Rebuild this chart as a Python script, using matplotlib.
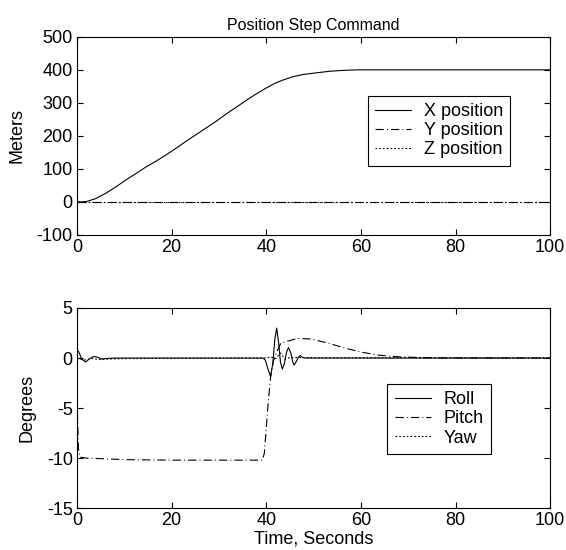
import numpy as np
import matplotlib.pyplot as plt

plt.rcParams['font.family'] = ['Liberation Sans', 'DejaVu Sans']
plt.rcParams['font.size'] = 13
plt.rcParams['axes.unicode_minus'] = False
plt.rcParams['lines.scale_dashes'] = False

# top plot: position step response
t_x = [0, 1, 2, 4, 6.2, 8.3, 10.4, 12.5, 14.6, 16.8, 18.9, 21, 23.1, 25.2, 27.3, 29.5, 31.6, 33.7,
       35.8, 38, 40, 41.8, 43.5, 45.6, 47.8, 50.6, 53.6, 56.5, 59.2, 65, 100]
x_pos = [0, 0, 1, 10, 27, 46, 67, 86, 106, 124, 143, 163, 184, 204, 224, 245, 267, 287,
         308, 328, 345, 359, 369, 379, 386, 391, 396, 398.5, 400, 400, 400]
t_yz = [0, 100]
y_pos = [0, 0]
z_pos = [0, 0]

# bottom plot: attitude angles
t_roll = [0, 0.4, 1, 1.8, 2.6, 3.5, 4.3, 5.2, 6, 8, 39.3, 39.8, 40.3, 40.9, 41.4, 41.8, 42.2, 42.6,
          43, 43.4, 43.8, 44.3, 44.7, 45.2, 45.6, 45.9, 46.4, 46.8, 47.2, 47.7, 48.3, 100]
roll = [0.8, 0.6, -0.1, -0.4, -0.1, 0.15, 0.1, -0.1, -0.05, 0, 0, -0.2, -1.0, -1.85, -0.5, 1.8, 3.0, 1.6,
        -0.4, -1.1, -0.6, 0.6, 1.05, 0.5, -0.4, -0.7, -0.3, 0.1, 0.25, 0.05, 0, 0]
t_pitch = [0, 0.3, 0.6, 2, 5, 10, 20, 30, 39.2, 39.6, 40.0, 40.4, 40.9, 41.5, 42.2, 43.1, 45, 46.6,
           49.5, 53, 56.6, 60, 63.6, 67, 70.7, 75, 100]
pitch = [-3.8, -9.0, -9.9, -10.0, -10.05, -10.15, -10.2, -10.2, -10.2, -9.5, -7.0, -4.5, -2.0, -0.3, 0.6, 1.5, 1.75, 1.96,
         1.9, 1.5, 1.0, 0.6, 0.3, 0.15, 0.08, 0.02, 0]
t_yaw = [0, 0.5, 1.5, 3, 5, 7, 11, 40, 41, 42, 43, 44, 45, 100]
yaw = [0, -0.1, -0.2, -0.05, -0.15, -0.1, -0.05, 0, 0.1, -0.05, 0.5, -0.1, 0.05, 0]

fig = plt.figure(figsize=(5.66, 5.5), dpi=100)
ax1 = fig.add_axes([0.136, 0.573, 0.836, 0.36])
ax2 = fig.add_axes([0.136, 0.076, 0.836, 0.364])

dashdot = (0, (6, 2.2, 0.7, 2.2))
leg_kw = dict(loc='upper left', fancybox=False, edgecolor='k', framealpha=1,
              handlelength=2.0, borderpad=0.4, labelspacing=0.12, handletextpad=0.7,
              borderaxespad=0, fontsize=13)

ax1.plot(t_x, x_pos, 'k-', lw=0.8, label='X position')
ax1.plot(t_yz, y_pos, 'k', ls=dashdot, lw=0.8, label='Y position')
ax1.plot(t_yz, z_pos, 'k', ls=(0, (1.2, 1.5)), lw=0.8, label='Z position')
ax1.set_xlim(0, 100)
ax1.set_ylim(-100, 500)
ax1.set_yticks(np.arange(-100, 501, 100))
ax1.set_ylabel('Meters', labelpad=8)
ax1.set_title('Position Step Command', fontsize=11.5, pad=5)
lg1 = ax1.legend(bbox_to_anchor=(0.615, 0.702), **leg_kw)
lg1.get_frame().set_linewidth(0.8)

ax2.plot(t_roll, roll, 'k-', lw=0.8, label='Roll')
ax2.plot(t_pitch, pitch, 'k', ls=dashdot, lw=0.8, label='Pitch')
ax2.plot(t_yaw, yaw, 'k', ls=(0, (1.2, 1.5)), lw=0.8, label='Yaw')
ax2.set_xlim(0, 100)
ax2.set_ylim(-15, 5)
ax2.set_ylabel('Degrees', labelpad=8)
ax2.set_xlabel('Time, Seconds', labelpad=1)
lg2 = ax2.legend(bbox_to_anchor=(0.656, 0.62), **leg_kw)
lg2.get_frame().set_linewidth(0.8)

for ax in (ax1, ax2):
    ax.tick_params(direction='in', top=True, right=True, length=4, labelsize=13, pad=3)
    for s in ax.spines.values():
        s.set_linewidth(0.8)

fig.savefig('out.png', dpi=100)
